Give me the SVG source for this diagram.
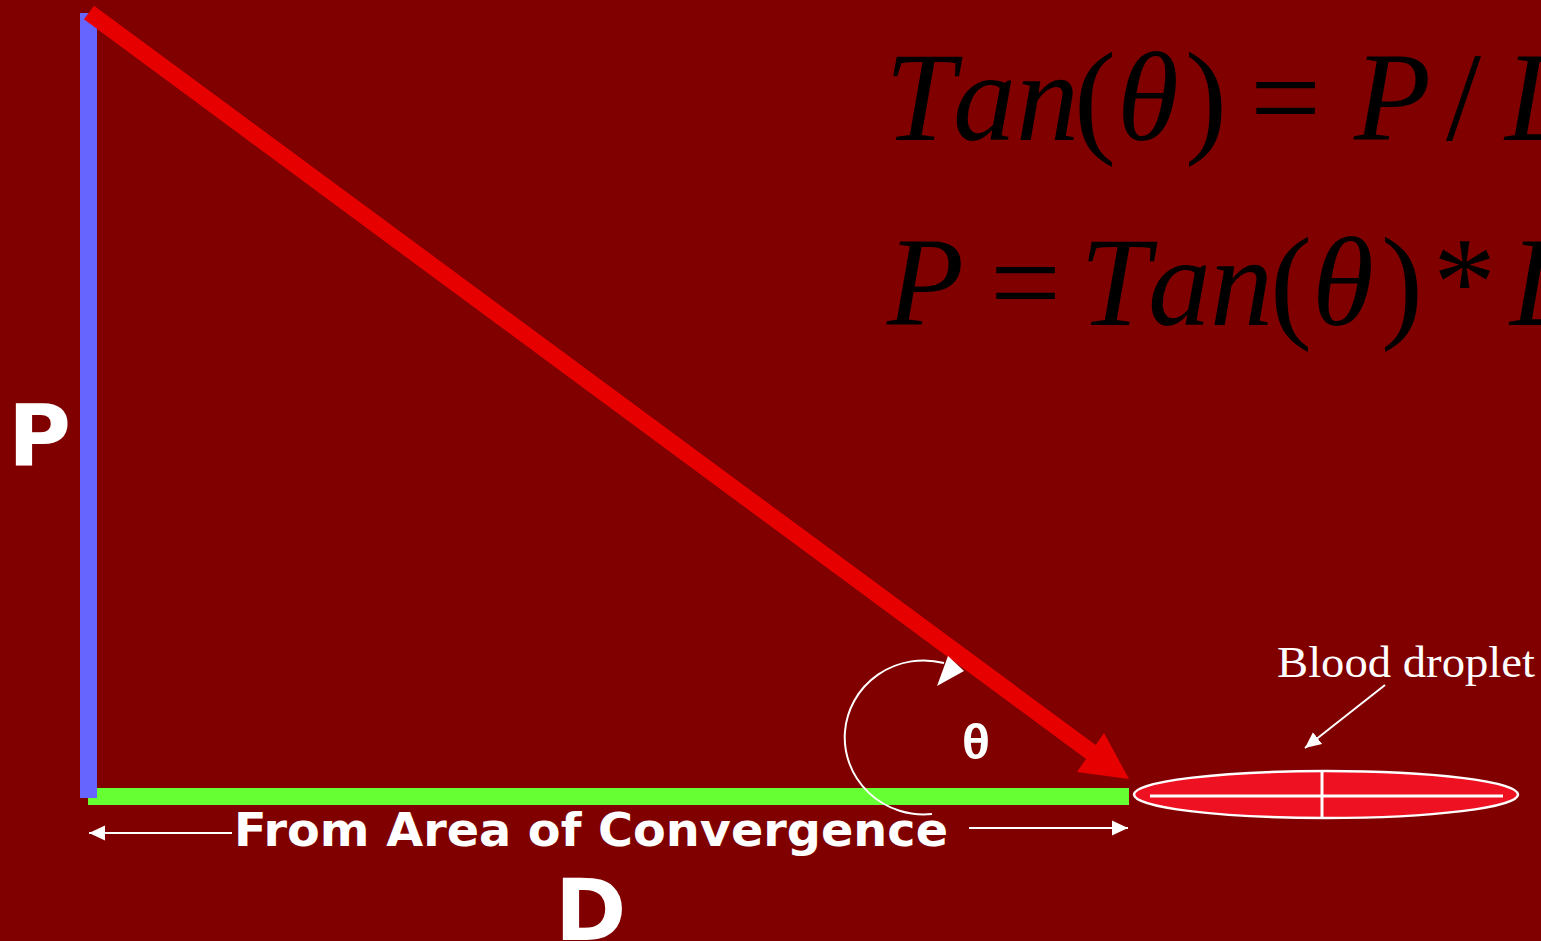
<svg xmlns="http://www.w3.org/2000/svg" width="1541" height="941" viewBox="0 0 1541 941">
<defs>
<style>
.math{font-family:"Liberation Serif","Times New Roman",serif;font-size:126px;fill:#000}
.it{font-style:italic}
.lbl{font-family:"DejaVu Sans",Verdana,sans-serif;font-weight:bold;fill:#fff}
.thin{stroke:#fff;stroke-width:2;fill:none}
</style>
<marker id="wa" markerUnits="userSpaceOnUse" markerWidth="18" markerHeight="16" refX="16" refY="8" orient="auto">
<path d="M0,0.5 L16,8 L0,15.5 z" fill="#fff"/>
</marker>
</defs>
<rect width="1541" height="941" fill="#800000"/>

<g id="formula1">
<text class="math it" x="885" y="140">T</text>
<text class="math it" x="953" y="140">a</text>
<text class="math it" x="1016" y="140">n</text>
<text class="math" x="1074" y="140">(</text>
<text class="math it" x="1117" y="140">θ</text>
<text class="math" x="1185" y="140">)</text>
<text class="math" x="1250" y="140">=</text>
<text class="math it" x="1354" y="140">P</text>
<text class="math" x="1446" y="140">/</text>
<text class="math it" x="1505" y="140">D</text>
</g>
<g id="formula2">
<text class="math it" x="887" y="325">P</text>
<text class="math" x="990" y="325">=</text>
<text class="math it" x="1080" y="325">T</text>
<text class="math it" x="1148" y="325">a</text>
<text class="math it" x="1210" y="325">n</text>
<text class="math" x="1270" y="325">(</text>
<text class="math it" x="1312" y="325">θ</text>
<text class="math" x="1381" y="325">)</text>
<text class="math" x="1433" y="325">*</text>
<text class="math it" x="1510" y="325">D</text>
</g>

<g id="connectors">
<rect id="edge-D" x="88" y="788" width="1041" height="17" fill="#66FF33"/>
<rect id="edge-P" x="80" y="13" width="17" height="785" fill="#6666FF"/>
<g id="edge-hyp">
<line x1="89" y1="12.5" x2="1095" y2="755" stroke="#E60000" stroke-width="17"/>
<polygon points="1129,779 1077,772 1104,733" fill="#E60000"/>
</g>
<g id="angle-arc">
<path d="M932,814 A79,77 0 1 1 944,663" class="thin" stroke-width="2.5"/>
<polygon points="964,671 948,656 937,686" fill="#fff"/>
</g>
<line x1="232" y1="833" x2="89" y2="833" class="thin" marker-end="url(#wa)"/>
<line x1="969" y1="828" x2="1128" y2="828" class="thin" marker-end="url(#wa)"/>
<line x1="1385" y1="685" x2="1305" y2="748" class="thin" marker-end="url(#wa)"/>
</g>

<g id="droplet">
<ellipse cx="1326" cy="794.5" rx="192" ry="23.5" fill="#EE1122" stroke="#fff" stroke-width="2.5"/>
<line x1="1150" y1="796" x2="1503" y2="796" stroke="#fff" stroke-width="3"/>
<line x1="1322" y1="771" x2="1322" y2="818" stroke="#fff" stroke-width="3"/>
</g>

<g id="labels">
<text class="lbl" x="8" y="466" font-size="86">P</text>
<text class="lbl" x="555" y="940" font-size="86">D</text>
<text class="lbl" x="234" y="846" font-size="46" textLength="714" lengthAdjust="spacingAndGlyphs">From Area of Convergence</text>
<text x="976" y="759" font-family="'Liberation Mono','Courier New',monospace" font-weight="bold" font-size="50" fill="#fff" text-anchor="middle">θ</text>
<text x="1277" y="677" font-family="'Liberation Serif','Times New Roman',serif" font-size="45" fill="#fff" textLength="258" lengthAdjust="spacingAndGlyphs">Blood droplet</text>
</g>
</svg>
